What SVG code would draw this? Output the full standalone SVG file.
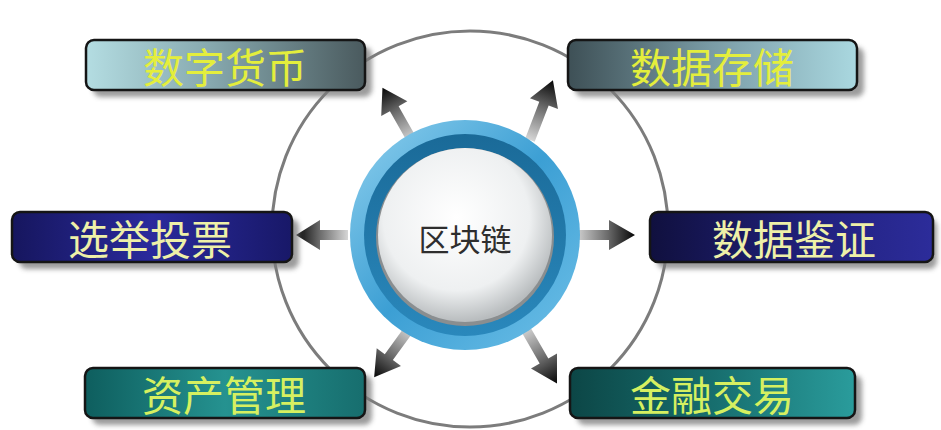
<svg xmlns="http://www.w3.org/2000/svg" width="941" height="430" viewBox="0 0 941 430">
<style>
.box{stroke:#151515;stroke-width:2.5}
.shadow{fill:#7a7a7a;opacity:0.75}
.lbl{font-family:"Noto Sans CJK SC","Noto Sans",sans-serif;font-size:41px;text-anchor:middle;dominant-baseline:central}
.core{font-family:"Noto Sans CJK SC","Noto Sans",sans-serif;font-size:31px;text-anchor:middle;dominant-baseline:central;fill:#2e2e2e}
.arrow{fill:url(#gArrow)}
</style>
<defs>
<filter id="blur" x="-10%" y="-30%" width="120%" height="160%"><feGaussianBlur stdDeviation="2.5"/></filter>
<linearGradient id="gArrow" x1="0" y1="0" x2="1" y2="0"><stop offset="0" stop-color="#d6d6d6"/><stop offset="0.55" stop-color="#6a6a6a"/><stop offset="1" stop-color="#050505"/></linearGradient>
<linearGradient id="g1" x1="0" y1="0" x2="1" y2="0"><stop offset="0" stop-color="#b4dde2"/><stop offset="0.45" stop-color="#86a8ae"/><stop offset="1" stop-color="#4a5a5e"/></linearGradient>
<linearGradient id="g2" x1="0" y1="0" x2="1" y2="0"><stop offset="0" stop-color="#3e5056"/><stop offset="0.5" stop-color="#7a9ca6"/><stop offset="1" stop-color="#aad8e0"/></linearGradient>
<linearGradient id="g3" x1="0" y1="0" x2="1" y2="0"><stop offset="0" stop-color="#16165e"/><stop offset="0.5" stop-color="#2a2a9c"/><stop offset="1" stop-color="#181868"/></linearGradient>
<linearGradient id="g4" x1="0" y1="0" x2="1" y2="0"><stop offset="0" stop-color="#10103e"/><stop offset="0.6" stop-color="#222280"/><stop offset="1" stop-color="#2c2c9a"/></linearGradient>
<linearGradient id="g5" x1="0" y1="0" x2="1" y2="0"><stop offset="0" stop-color="#0e5e5e"/><stop offset="0.5" stop-color="#259290"/><stop offset="1" stop-color="#176e6e"/></linearGradient>
<linearGradient id="g6" x1="0" y1="0" x2="1" y2="0"><stop offset="0" stop-color="#0c4646"/><stop offset="0.5" stop-color="#176e6e"/><stop offset="1" stop-color="#2a9c9c"/></linearGradient>
<linearGradient id="gRing" x1="0" y1="0" x2="1" y2="1"><stop offset="0" stop-color="#8fd0ee"/><stop offset="0.5" stop-color="#3c9fd4"/><stop offset="1" stop-color="#6ec0e8"/></linearGradient>
<linearGradient id="gBand" x1="0" y1="0" x2="0" y2="1"><stop offset="0" stop-color="#1a6a98"/><stop offset="1" stop-color="#2a88bc"/></linearGradient>
<radialGradient id="gCore" cx="0.45" cy="0.4" r="0.6"><stop offset="0" stop-color="#ffffff"/><stop offset="0.7" stop-color="#eef0f1"/><stop offset="1" stop-color="#b8bcbe"/></radialGradient>
</defs>

<circle cx="470" cy="229" r="198" fill="none" stroke="#7c7c7c" stroke-width="3"/>

<g id="connectors">
<g transform="translate(348,235) rotate(180)"><polygon class="arrow" points="0,-5 28,-5 28,-15 52,0 28,15 28,5 0,5"/></g>
<g transform="translate(575,235)"><polygon class="arrow" points="0,-5 34,-5 34,-15 60,0 34,15 34,5 0,5"/></g>
<g transform="translate(412,140) rotate(-119.5)"><polygon class="arrow" points="0,-5 36,-5 36,-15 60,0 36,15 36,5 0,5"/></g>
<g transform="translate(530,140) rotate(-69)"><polygon class="arrow" points="0,-5 39,-5 39,-15 64,0 39,15 39,5 0,5"/></g>
<g transform="translate(410,328) rotate(126)"><polygon class="arrow" points="0,-5 36,-5 36,-15 61,0 36,15 36,5 0,5"/></g>
<g transform="translate(525,328) rotate(60)"><polygon class="arrow" points="0,-5 38,-5 38,-15 64,0 38,15 38,5 0,5"/></g>
</g>

<g id="node-digital-currency">
<rect class="shadow" x="93" y="47" width="279" height="50" rx="8" filter="url(#blur)"/>
<rect class="box" x="86" y="40" width="279" height="50" rx="8" fill="url(#g1)"/>
<text class="lbl" x="225" y="65" fill="#e4ee3c">数字货币</text>
</g>
<g id="node-data-storage">
<rect class="shadow" x="575" y="47" width="289" height="50" rx="8" filter="url(#blur)"/>
<rect class="box" x="568" y="40" width="289" height="50" rx="8" fill="url(#g2)"/>
<text class="lbl" x="712" y="65" fill="#e4ee3c">数据存储</text>
</g>
<g id="node-voting">
<rect class="shadow" x="19" y="219" width="280" height="50" rx="8" filter="url(#blur)"/>
<rect class="box" x="12" y="212" width="280" height="50" rx="8" fill="url(#g3)"/>
<text class="lbl" x="150" y="237" fill="#eef0a8">选举投票</text>
</g>
<g id="node-data-verification">
<rect class="shadow" x="657" y="219" width="280" height="50" rx="8" filter="url(#blur)"/>
<rect class="box" x="650" y="212" width="283" height="50" rx="8" fill="url(#g4)"/>
<text class="lbl" x="794" y="237" fill="#eef0a8">数据鉴证</text>
</g>
<g id="node-asset-management">
<rect class="shadow" x="92" y="375" width="280" height="50" rx="8" filter="url(#blur)"/>
<rect class="box" x="85" y="368" width="280" height="50" rx="8" fill="url(#g5)"/>
<text class="lbl" x="224" y="393" fill="#d6f060">资产管理</text>
</g>
<g id="node-financial-trading">
<rect class="shadow" x="577" y="375" width="285" height="50" rx="8" filter="url(#blur)"/>
<rect class="box" x="570" y="368" width="285" height="50" rx="8" fill="url(#g6)"/>
<text class="lbl" x="712" y="393" fill="#d6f060">金融交易</text>
</g>

<g id="node-blockchain">
<circle cx="465" cy="235" r="115" fill="url(#gRing)"/>
<circle cx="465" cy="235" r="101" fill="url(#gBand)"/>
<circle cx="465" cy="237" r="89" fill="#8a8e90"/>
<circle cx="465" cy="235" r="87" fill="url(#gCore)"/>
<text class="core" x="465" y="237">区块链</text>
</g>
</svg>
